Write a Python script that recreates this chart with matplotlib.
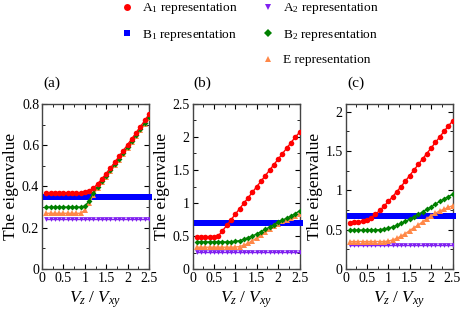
import matplotlib
matplotlib.use("Agg")
import matplotlib.pyplot as plt
from matplotlib.lines import Line2D
from matplotlib.ticker import MultipleLocator
import numpy as np

plt.rcParams['font.family'] = ['Liberation Serif', 'DejaVu Serif']
plt.rcParams['mathtext.fontset'] = 'custom'
plt.rcParams['mathtext.rm'] = 'Liberation Serif'
plt.rcParams['mathtext.it'] = 'Liberation Serif:italic'

vz = [0.1, 0.2, 0.3, 0.4, 0.5, 0.6, 0.7, 0.8, 0.9, 1.0, 1.1, 1.2, 1.3,
      1.4, 1.5, 1.6, 1.7, 1.8, 1.9, 2.0, 2.1, 2.2, 2.3, 2.4, 2.5]

# Panel (a)
a_A1 = [0.37, 0.37, 0.37, 0.37, 0.37, 0.37, 0.37, 0.37, 0.37, 0.372, 0.378, 0.392, 0.413,
        0.437, 0.463, 0.49, 0.518, 0.546, 0.574, 0.603, 0.632, 0.661, 0.69, 0.72, 0.75]
a_A2 = [0.241] * 25
a_B1 = [0.348] * 25
a_B2 = [0.30, 0.30, 0.30, 0.30, 0.30, 0.30, 0.30, 0.30, 0.30, 0.305, 0.33, 0.37, 0.40,
        0.426, 0.452, 0.479, 0.507, 0.535, 0.563, 0.592, 0.621, 0.65, 0.679, 0.708, 0.738]
a_E = [0.27, 0.27, 0.27, 0.27, 0.27, 0.27, 0.27, 0.27, 0.27, 0.285, 0.32, 0.36, 0.393,
       0.42, 0.447, 0.474, 0.502, 0.53, 0.558, 0.587, 0.616, 0.645, 0.674, 0.703, 0.732]

# Panel (b)
b_A1 = [0.48, 0.48, 0.48, 0.48, 0.48, 0.50, 0.58, 0.66, 0.745, 0.83, 0.913, 0.997, 1.08,
        1.164, 1.247, 1.33, 1.414, 1.497, 1.58, 1.664, 1.747, 1.83, 1.914, 1.997, 2.07]
b_A2 = [0.26] * 25
b_B1 = [0.69] * 25
b_B2 = [0.41, 0.41, 0.41, 0.41, 0.41, 0.41, 0.41, 0.41, 0.412, 0.418, 0.43, 0.45, 0.475,
        0.50, 0.53, 0.565, 0.60, 0.635, 0.67, 0.705, 0.74, 0.77, 0.80, 0.84, 0.88]
b_E = [0.33, 0.33, 0.33, 0.33, 0.33, 0.33, 0.33, 0.33, 0.33, 0.332, 0.34, 0.36, 0.39,
       0.43, 0.47, 0.51, 0.555, 0.60, 0.645, 0.685, 0.72, 0.75, 0.78, 0.81, 0.84]

# Panel (c)
c_A1 = [0.59, 0.595, 0.60, 0.61, 0.625, 0.655, 0.695, 0.745, 0.80, 0.86, 0.92, 0.985, 1.05,
        1.12, 1.19, 1.26, 1.33, 1.40, 1.47, 1.54, 1.61, 1.68, 1.75, 1.82, 1.88]
c_A2 = [0.30] * 25
c_B1 = [0.675] * 25
c_B2 = [0.495, 0.495, 0.495, 0.495, 0.495, 0.495, 0.497, 0.50, 0.508, 0.52, 0.535, 0.555, 0.58,
        0.605, 0.635, 0.665, 0.695, 0.725, 0.76, 0.79, 0.825, 0.86, 0.89, 0.92, 0.95]
c_E = [0.35, 0.35, 0.35, 0.35, 0.35, 0.35, 0.35, 0.35, 0.35, 0.355, 0.37, 0.39, 0.42,
       0.45, 0.49, 0.525, 0.56, 0.60, 0.64, 0.68, 0.71, 0.74, 0.76, 0.785, 0.805]

panels = ['(a)', '(b)', '(c)']
ylims = [0.8, 2.5, 2.1]
ymajor = [0.2, 0.5, 0.5]
yminor = [0.1, 0.25, 0.25]
xticks = [0, 0.5, 1, 1.5, 2, 2.5]
xticklabels = ['0', '0.5', '1', '1.5', '2', '2.5']
labels = ['A$_1$ representation', 'B$_1$ representation', 'A$_2$ representation',
          'B$_2$ representation', 'E representation']

data = [(a_A1, a_B1, a_A2, a_B2, a_E), (b_A1, b_B1, b_A2, b_B2, b_E), (c_A1, c_B1, c_A2, c_B2, c_E)]

c_red = '#ff0000'
c_blue = '#0000ff'
c_purple = '#8020f0'
c_green = '#008000'
c_orange = '#ff8848'

fig = plt.figure(figsize=(4.63, 3.12), dpi=100)
W, H = 463, 312
lefts = [42, 192.5, 345.5]
for i, (A1, B1, A2, B2, E) in enumerate(data):
    ax = fig.add_axes([lefts[i] / W, (H - 269) / H, 107 / W, 165 / H])
    ax.plot(vz, A2, color=c_purple, marker='v', ms=3.4, mew=0, lw=1.0, zorder=3)
    ax.plot(vz, B1, color=c_blue, marker='s', ms=4.4, mew=0, lw=1.0, zorder=3, clip_on=False)
    ax.plot(vz, E, color=c_orange, marker='^', ms=3.7, mew=0, lw=1.0, zorder=4)
    ax.plot(vz, B2, color=c_green, marker='D', ms=3.0, mew=0, lw=1.0, zorder=5)
    ax.plot(vz, A1, color=c_red, marker='o', ms=4.0, mew=0, lw=1.0, zorder=6)
    ax.set_xlim(0, 2.5)
    ax.set_ylim(0, ylims[i])
    ax.set_xticks(xticks)
    ax.set_xticklabels(xticklabels)
    ax.xaxis.set_minor_locator(MultipleLocator(0.25))
    ax.yaxis.set_major_locator(MultipleLocator(ymajor[i]))
    ax.yaxis.set_minor_locator(MultipleLocator(yminor[i]))
    ax.yaxis.set_major_formatter(plt.FuncFormatter(lambda v, p: ('%g' % round(v, 3))))
    ax.tick_params(which='both', direction='in', top=True, right=True, labelsize=10, pad=2)
    ax.tick_params(which='major', length=3.5)
    ax.tick_params(which='minor', length=2)
    for s in ax.spines.values():
        s.set_color('#444444')
        s.set_linewidth(1.0)
    ax.set_ylabel('The eigenvalue', fontsize=12.5, labelpad=2)
    ax.set_xlabel('$V_z\\ /\\ V_{xy}$', fontsize=12.5, labelpad=3)
    fig.text((lefts[i] + 10) / W, 1 - 83 / H, panels[i], fontsize=11, ha='center', va='center')

handles = [
    Line2D([], [], color=c_red, marker='o', ls='none', ms=5, mew=0),
    Line2D([], [], color=c_blue, marker='s', ls='none', ms=4.6, mew=0),
    Line2D([], [], ls='none', marker=None),
    Line2D([], [], color=c_purple, marker='v', ls='none', ms=5, mew=0),
    Line2D([], [], color=c_green, marker='D', ls='none', ms=4, mew=0),
    Line2D([], [], color=c_orange, marker='^', ls='none', ms=5, mew=0),
]
leg_labels = [labels[0], labels[1], ' ', labels[2], labels[3], labels[4]]
fig.legend(handles, leg_labels, ncol=2, loc='upper left', bbox_to_anchor=(119 / W, 1.0),
           frameon=False, fontsize=9.6, handlelength=1.0, handletextpad=0.6,
           columnspacing=1.8, labelspacing=0.85, borderaxespad=0.0, borderpad=0.1)

fig.savefig('out.png', dpi=100)
